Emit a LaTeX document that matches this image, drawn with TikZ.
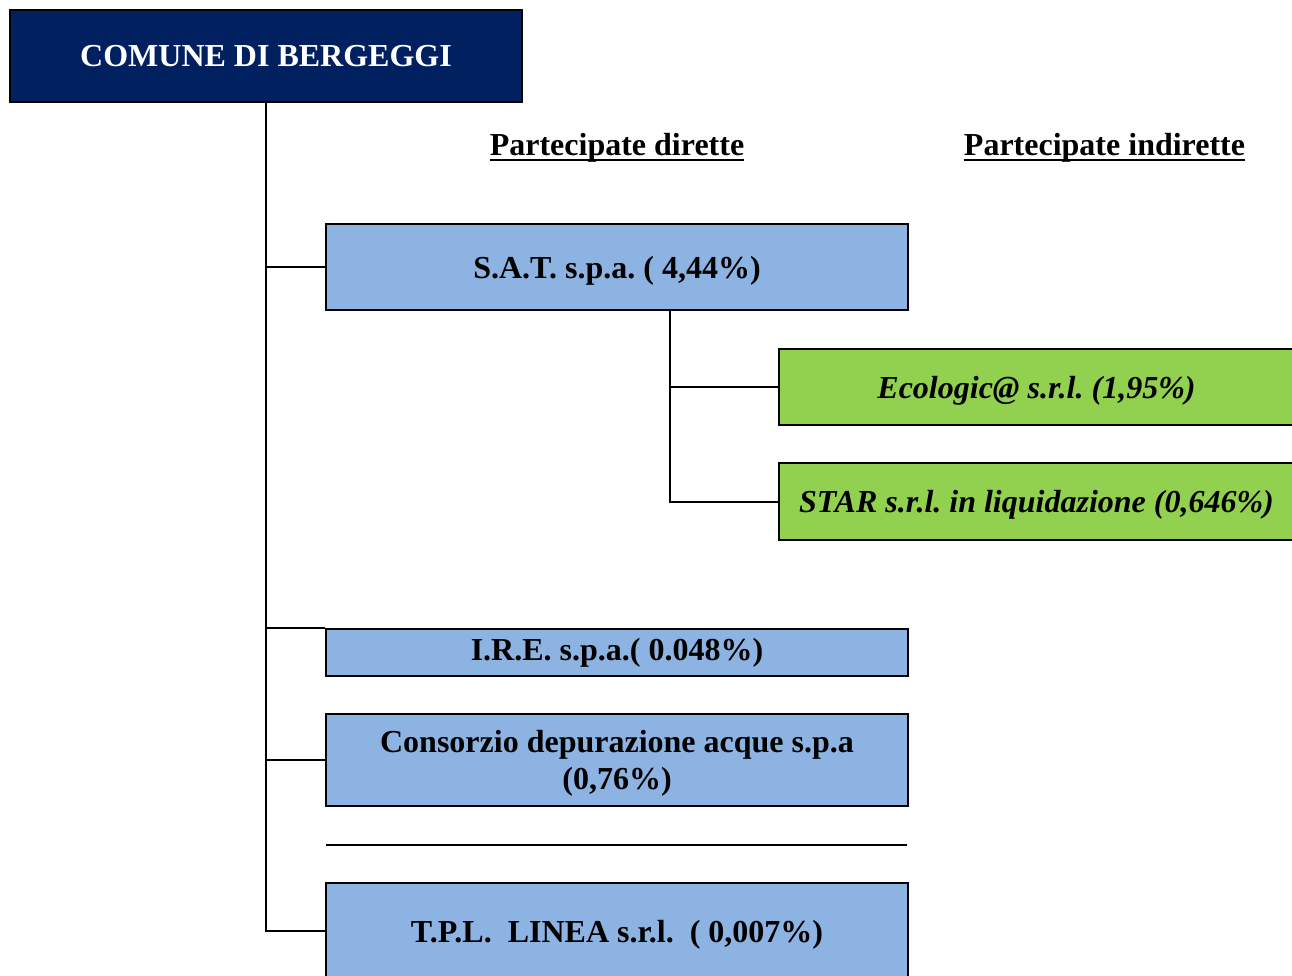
\documentclass[tikz,border=0pt]{standalone}
\usepackage{fontspec}
\setmainfont{Liberation Serif}
\usetikzlibrary{positioning, calc}

\definecolor{comunenavy}{RGB}{0,32,96}
\definecolor{direttablue}{RGB}{141,179,226}
\definecolor{indirettagreen}{RGB}{146,208,80}
\newcommand{\thickul}[1]{\vtop{\hbox{#1}\kern-3pt\hrule height 1.5pt}}

\begin{document}
\begin{tikzpicture}[x=0.75pt, y=-0.75pt,
    every node/.style={font=\fontsize{24}{28}\selectfont\bfseries\frenchspacing},
    box/.style={draw, line width=1.5pt, inner sep=0pt, align=center, text depth=0pt},
    ente/.style={box, fill=comunenavy, text=white, minimum width=384pt, minimum height=69pt},
    diretta/.style={box, fill=direttablue, minimum width=436.5pt},
    indiretta/.style={box, fill=indirettagreen, minimum width=386pt, minimum height=57.5pt,
        font=\fontsize{24}{28}\selectfont\bfseries\itshape\frenchspacing},
    heading/.style={inner sep=0pt},
    link/.style={line width=1.5pt}]

    \useasboundingbox (0,0) rectangle (1292,975);
    \clip (0,0) rectangle (1292,975);

    \node[ente] (comune) at (266,56) {COMUNE DI BERGEGGI};

    \node[heading] (hdir) at (617,147) {\thickul{Partecipate dirette}};
    \node[heading] (hind) at (1104.5,147) {\thickul{Partecipate indirette}};

    \node[diretta, minimum height=64.5pt] (sat) at (617,267) {S.A.T. s.p.a. ( 4,44\%)};
    \node[indiretta] (ecol) at (1036.5,387) {Ecologic@ s.r.l. (1,95\%)};
    \node[indiretta] (star) at (1036.5,501.5) {STAR s.r.l. in liquidazione (0,646\%)};
    \node[diretta, minimum height=35.25pt, text depth=4pt] (ire) at (617,652.5) {I.R.E. s.p.a.( 0.048\%)};
    \node[diretta, minimum height=69pt] (cons) at (617,760) {Consorzio depurazione acque s.p.a\\(0,76\%)};
    \node[diretta, minimum height=72pt] (tpl) at (617,931) {T.P.L.\ \ LINEA s.r.l.\ \ ( 0,007\%)};

    % tronco principale
    \draw[link] (comune.south) |- (tpl.west);
    \draw[link] (comune.south |- sat.west) -- (sat.west);
    \draw[link] (comune.south |- ire.north west) -- (ire.north west);
    \draw[link] (comune.south |- cons.west) -- (cons.west);

    % partecipate di S.A.T.
    \coordinate (satfoot) at ([xshift=39.75pt]sat.south);
    \draw[link] (satfoot) |- (star.west);
    \draw[link] (satfoot |- ecol.west) -- (ecol.west);

    \draw[link] (326,845) -- (907,845);
\end{tikzpicture}
\end{document}
